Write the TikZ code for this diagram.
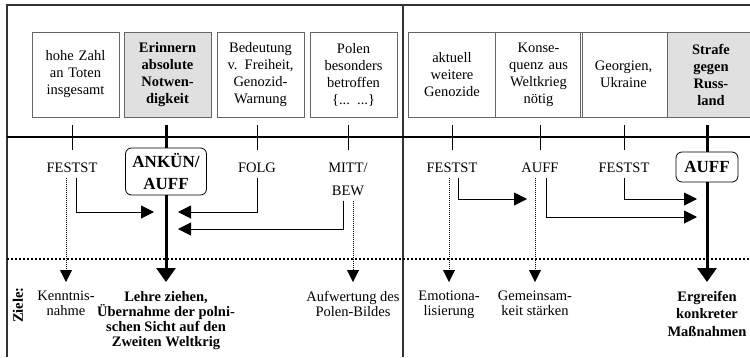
\documentclass[tikz,border=0pt]{standalone}
\usepackage{fontspec}
\setmainfont{Liberation Serif}
\usetikzlibrary{arrows.meta}
\newcommand{\boxfont}{\fontsize{14.5}{17}\selectfont}
\newcommand{\actfont}{\fontsize{14.5}{22.5}\selectfont}
\newcommand{\goalfont}{\fontsize{14.5}{15}\selectfont}

\begin{document}
\begin{tikzpicture}[x=1pt,y=-1pt,
  box/.style={draw=black!60,line width=0.8pt,minimum width=87pt,minimum height=85pt,
    text width=83pt,align=center,inner sep=0pt,font=\boxfont},
  keybox/.style={box,fill=black!12,font=\boxfont\bfseries},
  act/.style={align=center,inner sep=0pt,outer ysep=5pt,font=\actfont},
  mainact/.style={draw,line width=0.8pt,rounded corners=6pt,align=center,inner sep=2pt,
    font=\fontsize{17}{22.5}\selectfont\bfseries},
  goal/.style={align=center,anchor=north,inner sep=0pt,outer ysep=9pt,font=\goalfont},
  tickline/.style={line width=1pt},
  flow/.style={line width=1pt,-{Triangle[length=13pt,width=13pt]}},
  aim/.style={line width=1pt,dash pattern=on 1pt off 1pt,-{Triangle[length=12pt,width=12pt]}},
  mainflow/.style={line width=3pt,-{Triangle[length=14pt,width=19pt]}}]

\useasboundingbox (0,0) rectangle (750,357);

\draw[line width=2pt,black!80] (7,357) -- (7,5) -- (750,5);
\draw[line width=2pt,black!80] (403,5) -- (403,357);
\draw[line width=1.5pt] (7,137) -- (750,137);
\draw[line width=2pt,dash pattern=on 2pt off 2pt] (7,259) -- (750,259);

\coordinate (tt) at (0,125);
\coordinate (tb) at (0,150);

\node[box] (b1) at (75.5,74.5) {hohe Zahl\\an Toten\\insgesamt};
\node[keybox] (b2) at (167.5,74.5) {Erinnern\\absolute\\Notwen-\\digkeit};
\node[box] (b3) at (260.5,74.5) {Bedeutung\\v. Freiheit,\\Genozid-\\Warnung};
\node[box] (b4) at (353.5,74.5) {Polen\\besonders\\betroffen\\\{... ...\}};
\node[box] (b5) at (452,74.5) {aktuell\\weitere\\Genozide};
\node[box] (b6) at (538.5,74.5) {Konse-\\quenz aus\\Weltkrieg\\nötig};
\node[box] (b7) at (623.5,74.5) {Georgien,\\Ukraine};
\node[keybox] (b8) at (711,74.5) {Strafe\\gegen\\Russ-\\land};

\node[act] (l1) at (72,168) {FESTST};
\node[mainact,minimum width=81pt,minimum height=47pt] (a2) at (166,171.5) {ANKÜN/\\AUFF};
\node[act] (l3) at (257,168) {FOLG};
\node[act] (l4) at (348,179.5) {MITT/\\BEW};
\node[act] (l5) at (452,168) {FESTST};
\node[act] (l6) at (540,168) {AUFF};
\node[act] (l7) at (624,168) {FESTST};
\node[mainact,minimum width=62pt,minimum height=30pt] (a8) at (707,167) {AUFF};

\node[goal] (g1) at (66,282) {Kenntnis-\\nahme};
\node[goal,font=\goalfont\bfseries] (g2) at (166,282)
  {Lehre ziehen,\\Übernahme der polni-\\schen Sicht auf den\\Zweiten Weltkrig};
\node[goal] (g4) at (353,282) {Aufwertung des\\Polen-Bildes};
\node[goal] (g5) at (449,282) {Emotiona-\\lisierung};
\node[goal] (g6) at (535,282) {Gemeinsam-\\keit stärken};
\node[goal,font=\fontsize{14.5}{17.5}\selectfont\bfseries] (g8) at (707,282)
  {Ergreifen\\konkreter\\Maßnahmen};
\node[rotate=90,font=\fontsize{14.5}{15}\selectfont\bfseries] (ziele) at (18,305) {Ziele:};

\coordinate (e1) at (154,212);
\coordinate (e3) at (178,212);
\coordinate (e4) at (178,229);
\coordinate (e5) at (527,199);
\coordinate (e6) at (697,217);
\coordinate (e7) at (697,199);

\path
(l1 |- tt) edge[tickline] (l1 |- tb)
(l3 |- tt) edge[tickline] (l3 |- tb)
(l4 |- tt) edge[tickline] (l4 |- tb)
(l5 |- tt) edge[tickline] (l5 |- tb)
(l6 |- tt) edge[tickline] (l6 |- tb)
(l7 |- tt) edge[tickline] (l7 |- tb)
(a2 |- tt) edge[line width=3pt] (a2.north)
(a8 |- tt) edge[line width=3pt] (a8.north)
;

\draw[mainflow] (a2.south) -- (g2.north);
\draw[mainflow] (a8.south) -- (g8.north);

\draw[flow] ([xshift=4pt]l1.south) |- (e1);
\draw[flow] (l3.south) |- (e3);
\draw[flow] ([xshift=-5pt]l4.south) |- (e4);
\draw[flow] ([xshift=6pt]l5.south) |- (e5);
\draw[flow] ([xshift=6pt]l6.south) |- (e6);
\draw[flow] (l7.south) |- (e7);

\draw[aim] (g1 |- l1.south) -- (g1.north);
\draw[aim] (g4 |- l4.south) -- (g4.north);
\draw[aim] (g5 |- l5.south) -- (g5.north);
\draw[aim] (g6 |- l6.south) -- (g6.north);

\end{tikzpicture}
\end{document}
